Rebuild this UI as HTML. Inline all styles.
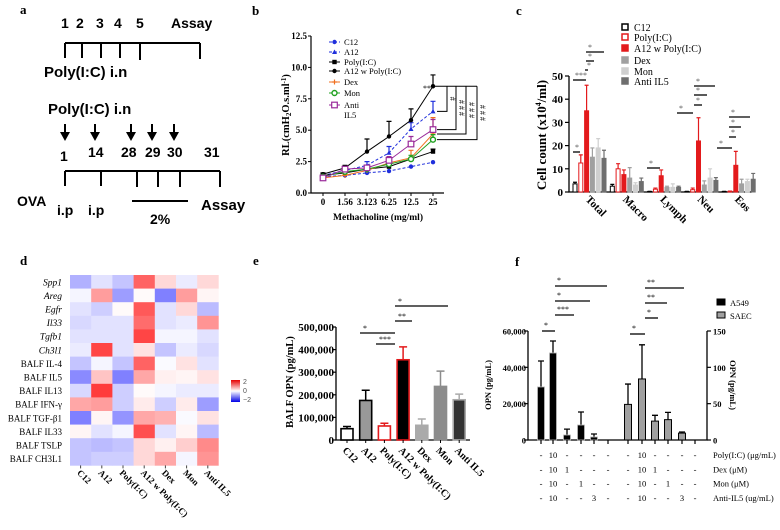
<!DOCTYPE html>
<html><head><meta charset="utf-8">
<style>
html,body{margin:0;padding:0;background:#fff;}
svg{display:block;}
</style></head>
<body>
<svg id="fig" width="780" height="530" viewBox="0 0 780 530">
<g font-family="Liberation Sans, sans-serif" font-weight="bold">
 <text x="20" y="14" font-family="Liberation Serif, serif" font-size="13">a</text>
 <g font-size="14">
  <text x="61" y="28">1</text><text x="76" y="28">2</text><text x="96" y="28">3</text><text x="114" y="28">4</text><text x="136" y="28">5</text><text x="171" y="28">Assay</text>
 </g>
 <path d="M65,43H200M65,43V58M82,43V58M101,43V58M120,43V58M140,43V60M200,43V59" stroke="#000" stroke-width="2" fill="none"/>
 <text x="44" y="77" font-size="15">Poly(I:C) i.n</text>
 <text x="48" y="114" font-size="15">Poly(I:C) i.n</text>
 <g stroke="#000" stroke-width="2">
  <path d="M65,124V134M95,124V134M131,124V134M152,124V134M174,124V134"/>
 </g>
 <g fill="#000"><path d="M60,132L70,132L65,141Z M90,132L100,132L95,141Z M126,132L136,132L131,141Z M147,132L157,132L152,141Z M169,132L179,132L174,141Z"/></g>
 <g font-size="14">
  <text x="60" y="161">1</text><text x="88" y="157">14</text><text x="121" y="157">28</text><text x="145" y="157">29</text><text x="167" y="157">30</text><text x="204" y="157">31</text>
 </g>
 <path d="M65,171H220M65,171V186M101,171V186M137,171V187M158,171V187M180,171V187M220,171V187" stroke="#000" stroke-width="2" fill="none"/>
 <text x="17" y="206" font-size="14">OVA</text>
 <text x="57" y="215" font-size="14">i.p</text><text x="88" y="215" font-size="14">i.p</text>
 <path d="M132,201H188" stroke="#000" stroke-width="2"/>
 <text x="150" y="224" font-size="14">2%</text>
 <text x="201" y="210" font-size="15">Assay</text>
</g>
<g id="pb"></g>
<g id="pc"></g>
<g id="pd"></g>
<g id="pe"></g>
<g id="pf"></g>
</svg>
<script>
const bDoses = ["0","1.56","3.123","6.25","12.5","25"];
const bYTicks = [0,2.5,5,7.5,10,12.5];
const bC12 = [1.3,1.4,1.6,1.75,2.1,2.45];
const bA12 = [1.4,1.8,2.2,3.2,5.1,6.5];
const bA12Err = [0.1,0.1,0.3,0.5,0.5,0.8];
const bPoly = [1.4,1.6,1.9,2.1,2.7,3.3];
const bPolyErr = [0.1,0.1,0.1,0.1,0.1,0.2];
const bA12wPoly = [1.5,2.0,3.3,4.5,5.8,8.5];
const bA12wPolyErr = [0.1,0.2,1.0,1.2,0.9,0.9];
const bDex = [1.2,1.4,1.8,2.4,2.8,4.7];
const bDexErr = [0.1,0.1,0.2,0.4,0.6,1.3];
const bMon = [1.3,1.7,1.9,2.3,2.7,4.25];
const bMonErr = [0.1,0.1,0.2,0.2,0.3,0.4];
const bAnti = [1.2,1.9,2.0,2.6,3.9,5.05];
const bAntiErr = [0.1,0.1,0.2,0.3,0.6,0.8];
const cCats = ["Total","Macro","Lymph","Neu","Eos"];
const cYTicks = [0,10,20,30,40,50];
const cC12 = [3.5,2.5,0.2,0.2,0.2];
const cC12Err = [0.7,0.8,0.1,0.1,0.1];
const cPoly = [12.5,10,1.2,1,0.3];
const cPolyErr = [3.5,2.2,0.5,0.7,0.1];
const cA12wPoly = [35,7.5,7,22,11.5];
const cA12wPolyErr = [11,2,2.5,10,6];
const cDex = [15,6,2,3,3.5];
const cDexErr = [4,4.5,0.5,1.8,2];
const cMon = [19,3,2,6,4.5];
const cMonErr = [4,1,1.5,4,1];
const cAnti = [14.5,4.5,2,5,5.5];
const cAntiErr = [3.5,1.5,0.5,1.2,2.5];
const dRows = ["Spp1","Areg","Egfr","Il33","Tgfb1","Ch3l1","BALF IL-4","BALF IL5","BALF IL13","BALF IFN-γ","BALF TGF-β1","BALF IL33","BALF TSLP","BALF CH3L1"];
const dCols = ["C12","A12","Poly(I:C)","A12 w Poly(I:C)","Dex","Mon","Anti IL5"];
const dVals = [
 [-0.8,-0.3,-0.6,1.6,0.4,-0.2,0.4],
 [-0.1,1.0,-1.0,0.05,-1.3,1.0,0.1],
 [-0.3,-0.5,0.05,1.7,-0.3,0.4,-0.7],
 [-0.4,-0.3,-0.3,1.5,-0.3,-0.2,1.1],
 [-0.3,-0.3,-0.3,1.9,-0.1,-0.1,-0.3],
 [-0.2,1.9,-0.3,0.3,-0.6,-0.2,-0.4],
 [-0.6,-0.1,-0.6,1.6,-0.05,0.3,-0.3],
 [-1.2,0.6,-1.3,0.9,0.15,0.1,0.3],
 [-0.4,2.0,-0.5,0.05,-0.1,-0.2,-0.2],
 [0.9,1.0,-0.5,0.2,-0.5,0.2,-1.0],
 [-1.3,0.1,-1.1,0.9,0.8,-0.05,0.3],
 [0.1,-0.3,-0.1,1.8,-0.3,0.1,-0.7],
 [-0.6,-0.7,-0.6,0.4,0.15,0.5,1.2],
 [-0.6,-0.5,-0.5,0.4,0.9,-0.1,1.1]];
const eCats = ["C12","A12","Poly(I:C)","A12 w Poly(I:C)","Dex","Mon","Anti IL5"];
const eVals = [50000,175000,62000,355000,65000,237000,178000];
const eErrs = [10000,45000,12000,57000,28000,68000,25000];
const eYTicks = ["0","100,000","200,000","300,000","400,000","500,000"];
const fA549 = [29200,47900,2750,8250,1650];
const fA549Err = [14300,6600,3250,7150,1650];
const fSAEC = [49,84,26,28,9.5];
const fSAECErr = [28,47,8,10,1.5];
const fLeftTicks = ["0","20,000","40,000","60,000"];
const fRightTicks = ["0","50","100","150"];
const fRowLabels = ["Poly(I:C) (μg/mL)","Dex (μM)","Mon (μM)","Anti-IL5 (ug/mL)"];
const fRows = [["-","10","-","-","-","-"],["-","10","1","-","-","-"],["-","10","-","1","-","-"],["-","10","-","-","3","-"]];

const NS="http://www.w3.org/2000/svg";
function mk(parent,tag,attrs,txt){const e=document.createElementNS(NS,tag);for(const k in attrs)e.setAttribute(k,attrs[k]);if(txt!==undefined)e.textContent=txt;parent.appendChild(e);return e;}

(function(){
 const g=document.getElementById('pb');
 const X0=323,DX=22,Y0=193,YS=12.56;
 const xs=i=>X0+i*DX, ys=v=>Y0-v*YS;
 let t=mk(g,'text',{x:252,y:15,'font-family':'Liberation Serif, serif','font-weight':'bold','font-size':13},'b');
 
 
 let ax=mk(g,'path',{d:`M311,${ys(12.5)}V${Y0}H444`,stroke:'#000','stroke-width':1.2,fill:'none'});
 
 
 bYTicks.forEach(v=>{mk(g,'path',{d:`M308,${ys(v)}H311`,stroke:'#000'});
  let l=mk(g,'text',{x:307,y:ys(v)+3,'text-anchor':'end','font-family':'Liberation Serif, serif','font-weight':'bold','font-size':9},v.toFixed(1));
  
  });
 bDoses.forEach((d,i)=>{mk(g,'path',{d:`M${xs(i)},${Y0}V${Y0+3}`,stroke:'#000'});
  let l=mk(g,'text',{x:xs(i),y:205,'text-anchor':'middle','font-family':'Liberation Serif, serif','font-weight':'bold','font-size':9},d);
  
  });
 let xt=mk(g,'text',{x:378,y:220,'text-anchor':'middle','font-family':'Liberation Serif, serif','font-weight':'bold','font-size':9.5},'Methacholine (mg/ml)');
 
 
 let yt=mk(g,'text',{x:0,y:0,transform:'translate(289,115) rotate(-90)','text-anchor':'middle','font-family':'Liberation Serif, serif','font-weight':'bold','font-size':10.5});
 yt.innerHTML='RL(cmH<tspan font-size="7" dy="2">2</tspan><tspan dy="-2">O.s.ml</tspan><tspan font-size="7" dy="-3">-1</tspan><tspan dy="3">)</tspan>';
 
 
 const series=[
  {n:'C12',v:bC12,e:null,c:'#1f2fdc',dash:'3,2',m:'circle'},
  {n:'A12',v:bA12,e:bA12Err,c:'#1f2fdc',dash:'3,2',m:'tri'},
  {n:'Poly(I:C)',v:bPoly,e:bPolyErr,c:'#000',dash:null,m:'square'},
  {n:'A12 w Poly(I:C)',v:bA12wPoly,e:bA12wPolyErr,c:'#000',dash:null,m:'circle'},
  {n:'Dex',v:bDex,e:bDexErr,c:'#f07020',dash:null,m:'plus'},
  {n:'Mon',v:bMon,e:bMonErr,c:'#20a020',dash:null,m:'ocircle'},
  {n:'Anti IL5',v:bAnti,e:bAntiErr,c:'#9a2a9a',dash:null,m:'osquare'}];
 function marker(p,m,x,y,c){
  if(m==='circle')return mk(p,'circle',{cx:x,cy:y,r:2.2,fill:c});
  if(m==='tri')return mk(p,'path',{d:`M${x},${y-2.5}L${x+2.5},${y+2}L${x-2.5},${y+2}Z`,fill:c});
  if(m==='square')return mk(p,'rect',{x:x-2.2,y:y-2.2,width:4.4,height:4.4,fill:c});
  if(m==='plus')return mk(p,'path',{d:`M${x-2.5},${y}H${x+2.5}M${x},${y-2.5}V${y+2.5}`,stroke:c,'stroke-width':1.2});
  if(m==='ocircle')return mk(p,'circle',{cx:x,cy:y,r:2.5,fill:'#fff',stroke:c,'stroke-width':1.4});
  return mk(p,'rect',{x:x-2.8,y:y-2.8,width:5.6,height:5.6,fill:'#fff',stroke:c,'stroke-width':1.2});
 }
 series.forEach((s,si)=>{
  const sg=mk(g,'g',{});
  
  
  if(s.e)s.v.forEach((v,i)=>{const x=xs(i),y1=ys(v),y2=ys(v+s.e[i]);mk(sg,'path',{d:`M${x},${y1}V${y2}M${x-2.5},${y2}H${x+2.5}`,stroke:s.c,'stroke-width':1.2});});
  const pts=s.v.map((v,i)=>xs(i)+','+ys(v)).join(' ');
  const a={points:pts,fill:'none',stroke:s.c,'stroke-width':1};
  if(s.dash)a['stroke-dasharray']=s.dash;
  mk(sg,'polyline',a);
  s.v.forEach((v,i)=>marker(sg,s.m,xs(i),ys(v),s.c));
  const ly=[42,52,62,71,82,93,105][si];
  const lg=mk(g,'g',{});
  
  
  const la={d:`M329,${ly}H340`,stroke:s.c,'stroke-width':1};if(s.dash)la['stroke-dasharray']=s.dash;
  mk(lg,'path',la);marker(lg,s.m,334.5,ly,s.c);
  mk(lg,'text',{x:344,y:ly+3,'font-family':'Liberation Serif, serif','font-size':8.5},s.n==='Anti IL5'?'Anti':s.n);
  if(s.n==='Anti IL5')mk(lg,'text',{x:344,y:ly+13,'font-family':'Liberation Serif, serif','font-size':8.5},'IL5');
 });
 const top=ys(bA12wPoly[5]);
 const br=mk(g,'g',{stroke:'#000','stroke-width':1,fill:'none'});
 
 
 const targets=[bA12[5],bAnti[5],bDex[5],bMon[5]],bx=[447,456,466,477];
 mk(br,'path',{d:`M435,${top}H${bx[3]}`});
 targets.forEach((v,i)=>{mk(br,'path',{d:`M${bx[i]},${top}V${ys(v)}H437`});});
 ['#','# # #','# # #','# # #'].forEach((s,i)=>{mk(g,'text',{x:0,y:0,transform:`translate(${bx[i]+3},${(top+ys(targets[i]))/2}) rotate(90)`,'text-anchor':'middle','font-family':'Liberation Serif, serif','font-size':8},s);});
 mk(g,'text',{x:423,y:91,'font-family':'Liberation Serif, serif','font-size':8},'***');
})();

(function(){
 const g=document.getElementById('pc');
 const Y0=192,YS=(192-76)/50,ys=v=>Y0-v*YS;
 const G0=573,GS=37.3,BS=5.8,BW=4;
 let t=mk(g,'text',{x:516,y:15,'font-family':'Liberation Serif, serif','font-weight':'bold','font-size':13},'c');
 
 
 let ax=mk(g,'path',{d:`M569,76V${Y0}H752`,stroke:'#000','stroke-width':1.3,fill:'none'});
 
 
 cYTicks.forEach(v=>{mk(g,'path',{d:`M565,${ys(v)}H569`,stroke:'#000','stroke-width':1.2});
  let l=mk(g,'text',{x:563,y:ys(v)+4,'text-anchor':'end','font-family':'Liberation Serif, serif','font-weight':'bold','font-size':11},v);
  
  });
 let yt=mk(g,'text',{x:0,y:0,transform:'translate(546,135) rotate(-90)','text-anchor':'middle','font-family':'Liberation Serif, serif','font-weight':'bold','font-size':13});
 yt.innerHTML='Cell count (x10<tspan font-size="8" dy="-5">4</tspan><tspan dy="5">/ml)</tspan>';
 
 
 const ser=[
  {n:'C12',v:cC12,e:cC12Err,fill:'#fff',st:'#000'},
  {n:'Poly(I:C)',v:cPoly,e:cPolyErr,fill:'#fff',st:'#e31a1c'},
  {n:'A12 w Poly(I:C)',v:cA12wPoly,e:cA12wPolyErr,fill:'#e31a1c',st:'#e31a1c'},
  {n:'Dex',v:cDex,e:cDexErr,fill:'#a0a0a0',st:'#a0a0a0'},
  {n:'Mon',v:cMon,e:cMonErr,fill:'#cfcfcf',st:'#cfcfcf'},
  {n:'Anti IL5',v:cAnti,e:cAntiErr,fill:'#6e6e6e',st:'#6e6e6e'}];
 ser.forEach((s,si)=>{
  s.v.forEach((v,ci)=>{
   const x=G0+ci*GS+si*BS;
   let r=mk(g,'rect',{x:x,y:ys(v),width:BW,height:Math.max(0.5,v*YS),fill:s.fill,stroke:s.st,'stroke-width':1});
   
   
   const ec=si===2||si===1?'#e31a1c':(si===0?'#000':s.st);
   mk(g,'path',{d:`M${x+BW/2},${ys(v)}V${ys(v+s.e[ci])}M${x},${ys(v+s.e[ci])}H${x+BW}`,stroke:ec,'stroke-width':1.2});
  });
  const ly=[28,38,49,61,72,82][si];
  const lg=mk(g,'g',{});
  
  
  mk(lg,'rect',{x:622,y:ly-4,width:6,height:6,fill:s.fill,stroke:s.st,'stroke-width':1.5});
  mk(lg,'text',{x:634,y:ly+3,'font-family':'Liberation Serif, serif','font-size':10},s.n);
 });
 cCats.forEach((c,ci)=>{const x=G0+ci*GS+12;
  let l=mk(g,'text',{x:0,y:0,transform:`translate(${x},200) rotate(45)`,'font-family':'Liberation Serif, serif','font-weight':'bold','font-size':11},c);
  
  });
 const sig=[[152,573,580,'*'],[80,573,586,'***'],[70,585,588,'*'],[61,586,594,'*'],[52,586,604,'*'],[168,647,660,'*'],[113,677,693,'*'],[105,694,702,'*'],[95,694,707,'*'],[86,694,715,'*'],[148,717,732,'*'],[137,729,736,'*'],[127,729,741,'*'],[117,729,750,'*']];
 sig.forEach(s=>{let p=mk(g,'path',{d:`M${s[1]},${s[0]}H${s[2]}`,stroke:'#000','stroke-width':1.3});
  
  
  mk(g,'text',{x:s[1]+2,y:s[0]-2,'font-family':'Liberation Serif, serif','font-size':8,fill:'#555'},s[3]);});
})();

(function(){
 const g=document.getElementById('pd');
 const X0=70,CW=21.2,Y0=275,RH=13.6;
 let t=mk(g,'text',{x:20,y:265,'font-family':'Liberation Serif, serif','font-weight':'bold','font-size':13},'d');
 
 
 function col(v){const a=Math.min(1,Math.abs(v)/2.2);
  if(v>=0)return `rgb(255,${Math.round(255-215*a)},${Math.round(255-215*a)})`;
  return `rgb(${Math.round(255-215*a)},${Math.round(255-215*a)},255)`;}
 dVals.forEach((row,ri)=>{
  row.forEach((v,ci)=>{let r=mk(g,'rect',{x:X0+ci*CW,y:Y0+ri*RH,width:CW+0.3,height:RH+0.3,fill:col(v)});
   
   });
  const it=ri<6;
  let l=mk(g,'text',{x:62,y:Y0+ri*RH+RH/2+3.5,'text-anchor':'end','font-family':'Liberation Serif, serif','font-size':it?9.5:9,'font-style':it?'italic':'normal'},dRows[ri]);
  
  
 });
 dCols.forEach((c,ci)=>{const x=X0+ci*CW+CW/2;
  mk(g,'path',{d:`M${x},${Y0+14*RH}V${Y0+14*RH+3}`,stroke:'#444'});
  let l=mk(g,'text',{x:0,y:0,transform:`translate(${x-4},${Y0+14*RH+8}) rotate(45)`,'font-family':'Liberation Serif, serif','font-weight':'bold','font-size':9},c);
  
  });
 const defs=mk(g,'defs',{});
 const lgd=mk(defs,'linearGradient',{id:'cbg',x1:0,y1:0,x2:0,y2:1});
 mk(lgd,'stop',{offset:'0','stop-color':'#e60000'});mk(lgd,'stop',{offset:'0.5','stop-color':'#ffffff'});mk(lgd,'stop',{offset:'1','stop-color':'#0000e6'});
 let cb=mk(g,'rect',{x:231,y:380,width:9,height:22,fill:'url(#cbg)'});
 
 
 [['2',384],['0',393],['−2',402]].forEach(a=>mk(g,'text',{x:243,y:a[1],'font-family':'Liberation Sans, sans-serif','font-size':7,fill:'#555'},a[0]));
})();

(function(){
 const g=document.getElementById('pe');
 const Y0=440,YS=(440-327)/500000,ys=v=>Y0-v*YS,X0=347,DX=18.7,BW=12;
 let t=mk(g,'text',{x:253,y:265,'font-family':'Liberation Serif, serif','font-weight':'bold','font-size':13},'e');
 
 
 let ax=mk(g,'path',{d:`M336,327V${Y0}H470`,stroke:'#000','stroke-width':1.3,fill:'none'});
 
 
 eYTicks.forEach((s,i)=>{const y=ys(i*100000);mk(g,'path',{d:`M332,${y}H336`,stroke:'#000','stroke-width':1.2});
  let l=mk(g,'text',{x:334,y:y+4,'text-anchor':'end','font-family':'Liberation Serif, serif','font-weight':'bold','font-size':11},s);
  
  });
 let yt=mk(g,'text',{x:0,y:0,transform:'translate(293,382) rotate(-90)','text-anchor':'middle','font-family':'Liberation Serif, serif','font-weight':'bold','font-size':10.5},'BALF OPN (pg/mL)');
 
 
 const sty=[['#fff','#000'],['#999','#000'],['#fff','#e31a1c'],['#000','#e31a1c'],['#aaa','#aaa'],['#8c8c8c','#8c8c8c'],['#333','#aaa']];
 eVals.forEach((v,i)=>{const cx=X0+i*DX,ec=sty[i][1]==='#e31a1c'?'#e31a1c':(i>=4?sty[i][1]:'#000');
  mk(g,'path',{d:`M${cx},${ys(v)}V${ys(v+eErrs[i])}M${cx-4},${ys(v+eErrs[i])}H${cx+4}`,stroke:ec,'stroke-width':1.5});
  let r=mk(g,'rect',{x:cx-BW/2,y:ys(v),width:BW,height:v*YS,fill:sty[i][0],stroke:sty[i][1],'stroke-width':1.6});
  
  
  mk(g,'path',{d:`M${cx},${Y0}V${Y0+3}`,stroke:'#000'});
  let l=mk(g,'text',{x:0,y:0,transform:`translate(${cx-5},${Y0+11}) rotate(45)`,'font-family':'Liberation Serif, serif','font-weight':'bold','font-size':10},eCats[i]);
  
  });
 [[333,360,395,'*'],[344,376,395,'***'],[321,395,412,'**'],[306,395,448,'*']].forEach(s=>{
  let p=mk(g,'path',{d:`M${s[1]},${s[0]}H${s[2]}`,stroke:'#000','stroke-width':1.3});
  
  
  mk(g,'text',{x:s[1]+3,y:s[0]-2,'font-family':'Liberation Serif, serif','font-size':8},s[3]);});
})();

(function(){
 const g=document.getElementById('pf');
 const Y0=440,LS=(440-331)/60000,RS=(440-331)/150,yl=v=>Y0-v*LS,yr=v=>Y0-v*RS;
 const LX=[541,553,567,581,594,608],RX=[628,642,655,668,682,695],BW=7;
 let t=mk(g,'text',{x:515,y:266,'font-family':'Liberation Serif, serif','font-weight':'bold','font-size':13},'f');
 
 
 let ax=mk(g,'path',{d:`M528,331V${Y0}H707V331`,stroke:'#000','stroke-width':1.3,fill:'none'});
 
 
 fLeftTicks.forEach((s,i)=>{const y=yl(i*20000);mk(g,'path',{d:`M524,${y}H528`,stroke:'#000','stroke-width':1.2});
  let l=mk(g,'text',{x:526,y:y+3.5,'text-anchor':'end','font-family':'Liberation Serif, serif','font-weight':'bold','font-size':8.5},s);
  
  });
 fRightTicks.forEach((s,i)=>{const y=yr(i*50);mk(g,'path',{d:`M707,${y}H711`,stroke:'#000','stroke-width':1.2});
  let l=mk(g,'text',{x:713,y:y+3.5,'font-family':'Liberation Serif, serif','font-weight':'bold','font-size':8.5},s);
  
  });
 let yt=mk(g,'text',{x:0,y:0,transform:'translate(491,385) rotate(-90)','text-anchor':'middle','font-family':'Liberation Serif, serif','font-weight':'bold','font-size':8.5},'OPN (pg/mL)');
 
 
 let yt2=mk(g,'text',{x:0,y:0,transform:'translate(730,385) rotate(90)','text-anchor':'middle','font-family':'Liberation Serif, serif','font-weight':'bold','font-size':8.5},'OPN (pg/mL)');
 
 
 fA549.forEach((v,i)=>{const cx=LX[i];
  mk(g,'path',{d:`M${cx},${yl(v)}V${yl(v+fA549Err[i])}M${cx-3},${yl(v+fA549Err[i])}H${cx+3}`,stroke:'#000','stroke-width':1.3});
  let r=mk(g,'rect',{x:cx-BW/2,y:yl(v),width:BW,height:v*LS,fill:'#000',stroke:'#bbb','stroke-width':0.8});
  
  });
 fSAEC.forEach((v,i)=>{const cx=RX[i];
  mk(g,'path',{d:`M${cx},${yr(v)}V${yr(v+fSAECErr[i])}M${cx-3},${yr(v+fSAECErr[i])}H${cx+3}`,stroke:'#000','stroke-width':1.3});
  let r=mk(g,'rect',{x:cx-BW/2,y:yr(v),width:BW,height:v*RS,fill:'#a0a0a0',stroke:'#000','stroke-width':1});
  
  });
 LX.concat(RX).forEach(x=>mk(g,'path',{d:`M${x},${Y0}V${Y0+4}`,stroke:'#000','stroke-width':1.2}));
 fRows.forEach((row,ri)=>{const y=458+ri*14.3;
  row.forEach((s,ci)=>{mk(g,'text',{x:LX[ci],y:y,'text-anchor':'middle','font-family':'Liberation Serif, serif','font-size':8.5},s);
   mk(g,'text',{x:RX[ci],y:y,'text-anchor':'middle','font-family':'Liberation Serif, serif','font-size':8.5},s);});
  let l=mk(g,'text',{x:713,y:y,'font-family':'Liberation Serif, serif','font-size':8.5},fRowLabels[ri]);
  
  });
 [['A549','#000',303],['SAEC','#a0a0a0',316]].forEach(a=>{const lg=mk(g,'g',{});
  
  
  mk(lg,'rect',{x:717,y:a[2]-4,width:8,height:6,fill:a[1],stroke:'#000'});
  mk(lg,'text',{x:730,y:a[2]+3,'font-family':'Liberation Serif, serif','font-size':8.5},a[0]);});
 [[331,542,555,'*'],[315,555,574,'***'],[301,555,590,'*'],[286,555,607,'*'],[334,630,645,'*'],[318,645,658,'*'],[303,645,667,'**'],[288,645,684,'**']].forEach(s=>{
  let p=mk(g,'path',{d:`M${s[1]},${s[0]}H${s[2]}`,stroke:'#000','stroke-width':1.3});
  
  
  mk(g,'text',{x:s[1]+2,y:s[0]-3,'font-family':'Liberation Serif, serif','font-size':8},s[3]);});
})();
</script>
</body></html>
